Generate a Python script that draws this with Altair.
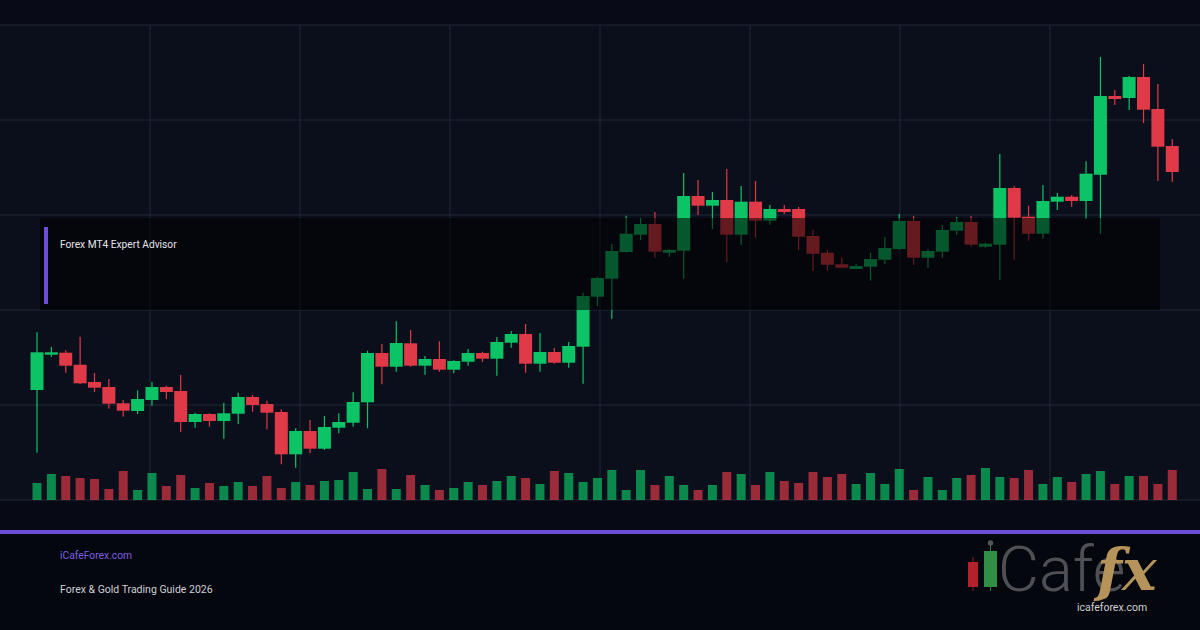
import altair as alt
import pandas as pd

# ---------------- data (price units, volume in lots) ----------------
opens = [4110, 4145.3, 4147.3, 4135.3, 4118, 4113, 4096.7, 4089, 4100, 4113,
         4109, 4078, 4086, 4079, 4086.3, 4103, 4096, 4088, 4045.7, 4069,
         4051.3, 4072.3, 4077.3, 4097.7, 4147, 4133.3, 4156.7, 4134.3, 4141, 4130.3,
         4138.3, 4147, 4141.3, 4157.3, 4166, 4136.3, 4148, 4137.3, 4153.3, 4203.3,
         4221.3, 4248, 4265.3, 4276, 4247.3, 4249.3, 4304, 4294.3, 4300, 4265.3,
         4298.3, 4279.3, 4291, 4291, 4264, 4247.3, 4235.7, 4231, 4233.3, 4240.3,
         4251, 4279, 4242.3, 4248.3, 4269.3, 4278, 4253.3, 4255.3, 4312, 4283.3,
         4266.3, 4298.3, 4303.3, 4299, 4325.3, 4404, 4402, 4423, 4391, 4354]
highs = [4167.7, 4153, 4149.7, 4163.3, 4127, 4121, 4100, 4109.7, 4118, 4114.3,
         4125, 4087.3, 4086.7, 4097.3, 4107.3, 4105, 4099.3, 4090.7, 4071.7, 4080,
         4084, 4086.7, 4107.7, 4149.3, 4156, 4178.7, 4170, 4144, 4158.7, 4139.7,
         4151, 4148.3, 4163, 4169, 4176, 4167, 4152, 4158, 4207.3, 4223.3,
         4256, 4284.3, 4282, 4288, 4251, 4327, 4320, 4308, 4331, 4314,
         4319, 4295, 4295, 4293, 4270, 4250, 4242.3, 4235.7, 4247.3, 4263,
         4286, 4284, 4250.7, 4275, 4283, 4284, 4257.3, 4346, 4314, 4294.3,
         4315, 4307, 4305, 4338.7, 4443, 4410, 4424, 4436, 4416, 4361]
lows = [4047.3, 4143.3, 4127.3, 4116, 4108, 4091.3, 4083.3, 4086, 4094.3, 4101,
        4068, 4072.3, 4073.3, 4061.3, 4076, 4088.3, 4070.7, 4035.7, 4032.3, 4046.7,
        4050, 4066.7, 4073.3, 4071.7, 4115.7, 4128.3, 4133.3, 4125.3, 4128.3, 4126.7,
        4134.3, 4138, 4124.3, 4152.3, 4127.3, 4128.3, 4136.3, 4132.3, 4116.3, 4194,
        4181.3, 4247.3, 4260, 4242.3, 4243.3, 4221.3, 4285, 4271, 4238, 4255,
        4262.3, 4275.3, 4286, 4250, 4229.3, 4229.3, 4231.7, 4230.7, 4219.3, 4236,
        4250, 4235, 4232, 4242.3, 4265.3, 4253.3, 4252.3, 4220.3, 4240.3, 4259.3,
        4261.3, 4290, 4293.3, 4281, 4266, 4395, 4390, 4377, 4319, 4318]
closes = [4147.7, 4147.7, 4134.3, 4116.7, 4112.3, 4096.3, 4089.3, 4101, 4113, 4108,
          4078, 4086, 4079, 4086.7, 4103, 4095, 4087.3, 4045.7, 4069, 4051.3,
          4073, 4078, 4098, 4147, 4133.3, 4157, 4134.3, 4141, 4130.3, 4139,
          4147, 4141.3, 4158, 4166, 4136.3, 4148, 4137.3, 4154, 4204, 4222,
          4249, 4266.3, 4276, 4248.3, 4250, 4304, 4294.3, 4300, 4265.3, 4298.3,
          4279.3, 4291, 4288, 4263.3, 4246.3, 4235.3, 4232.3, 4234, 4241, 4252,
          4279, 4242.3, 4249, 4270, 4278, 4255.3, 4256.3, 4312, 4282.3, 4266.3,
          4299, 4303.3, 4299, 4326.3, 4404, 4401, 4423, 4390.3, 4353.3, 4328]
volumes = [1700, 2600, 2400, 2200, 2100, 1100, 2900, 1000, 2700, 1400,
           2500, 1200, 1700, 1400, 1800, 1400, 2400, 1200, 1800, 1500,
           1900, 2000, 2800, 1100, 3100, 1100, 2500, 1500, 1000, 1200,
           1800, 1500, 1900, 2400, 2200, 1600, 2900, 2700, 1800, 2200,
           3000, 1000, 3000, 1500, 2400, 1500, 1000, 1500, 2800, 2600,
           1500, 2800, 1900, 1700, 2800, 2300, 2600, 1600, 2700, 1600,
           3100, 1000, 2300, 1000, 2200, 2500, 3200, 2300, 2200, 3000,
           1600, 2300, 1800, 2600, 2900, 1600, 2400, 2400, 1600, 3000]

panel_title = ["Forex MT4 Expert Advisor"]
footer_site = ["iCafeForex.com"]
footer_subtitle = ["Forex & Gold Trading Guide 2026"]
logo_word = ["Cafe"]
logo_fx = ["fx"]
logo_url = ["icafeforex.com"]

# ---------------- styling ----------------
W, H = 1200, 630
BG = "#0b0e1b"
GREEN = "#0cc466"
RED = "#e03a48"
PURPLE = "#6c4fd4"
GRID = "#232839"

df = pd.DataFrame({"i": list(range(len(opens))), "open": opens, "high": highs,
                   "low": lows, "close": closes, "volume": volumes})
df["dir"] = ["up" if c >= o else "down" for o, c in zip(opens, closes)]

x_sc = alt.Scale(domain=[-2.575, 80.93], nice=False, zero=False, padding=0)
price_sc = alt.Scale(domain=[3870, 4500], nice=False, zero=False, padding=0)
vol_sc = alt.Scale(domain=[-13000, 50000], nice=False, zero=False, padding=0)
col = alt.Color("dir:N", scale=alt.Scale(domain=["up", "down"], range=[GREEN, RED]), legend=None)

def px(field):
    return alt.X(field, type="quantitative", scale=None, axis=None)

def py(field):
    return alt.Y(field, type="quantitative", scale=None, axis=None)

# background bands
bands = pd.DataFrame({"x": [0, 0, 0], "x2": [W, W, W], "y": [0, 500, 534], "y2": [25, 534, H],
                      "c": ["#080b17", "#070a14", "#05070e"]})
bg_layer = alt.Chart(bands).mark_rect().encode(
    x=px("x"), x2="x2", y=py("y"), y2="y2", color=alt.Color("c:N", scale=None))

hgrid = pd.DataFrame({"y": [25, 120, 215, 310, 405, 500]})
hgrid_layer = alt.Chart(hgrid).mark_rule(color=GRID, strokeWidth=1).encode(
    y=py("y"), x=alt.value(0), x2=alt.value(W))
vgrid = pd.DataFrame({"x": [150, 300, 450, 600, 750, 900, 1050]})
vgrid_layer = alt.Chart(vgrid).mark_rule(color=GRID, strokeWidth=1).encode(
    x=px("x"), y=alt.value(25), y2=alt.value(500))

vol_layer = alt.Chart(df).mark_bar(size=9, opacity=0.68).encode(
    x=alt.X("i:Q", scale=x_sc, axis=None),
    y=alt.Y("volume:Q", scale=vol_sc, axis=None),
    y2=alt.datum(0),
    color=col)

wick_layer = alt.Chart(df).mark_rule(strokeWidth=1.2).encode(
    x=alt.X("i:Q", scale=x_sc, axis=None),
    y=alt.Y("low:Q", scale=price_sc, axis=None),
    y2="high:Q",
    color=col)

body_layer = alt.Chart(df).mark_bar(size=13).encode(
    x=alt.X("i:Q", scale=x_sc, axis=None),
    y=alt.Y("open:Q", scale=price_sc, axis=None),
    y2="close:Q",
    color=col)

overlay = alt.Chart(pd.DataFrame({"a": [0]})).mark_rect(color="#000000", opacity=0.55).encode(
    x=alt.value(40), x2=alt.value(1160), y=alt.value(218), y2=alt.value(310))
accent = alt.Chart(pd.DataFrame({"a": [0]})).mark_rect(color=PURPLE).encode(
    x=alt.value(44), x2=alt.value(48), y=alt.value(227), y2=alt.value(304))
title_txt = alt.Chart(pd.DataFrame({"t": panel_title})).mark_text(
    align="left", baseline="middle", font="Roboto", fontSize=10.2, color="#e4e4ea").encode(
    x=alt.value(60), y=alt.value(245), text="t:N")

line = alt.Chart(pd.DataFrame({"a": [0]})).mark_rect(color=PURPLE).encode(
    x=alt.value(0), x2=alt.value(W), y=alt.value(530), y2=alt.value(534))

site_txt = alt.Chart(pd.DataFrame({"t": footer_site})).mark_text(
    align="left", baseline="middle", font="Roboto", fontSize=10.3, color="#7b5fe2").encode(
    x=alt.value(60), y=alt.value(556), text="t:N")
sub_txt = alt.Chart(pd.DataFrame({"t": footer_subtitle})).mark_text(
    align="left", baseline="middle", font="Roboto", fontSize=10.5, color="#cfd0d6").encode(
    x=alt.value(60), y=alt.value(590), text="t:N")

# logo
logo_rects = pd.DataFrame({
    "x": [972.5, 968, 990, 984],
    "x2": [973.5, 978, 991, 997],
    "y": [557, 562, 544, 551],
    "y2": [591, 587, 591, 587],
    "c": ["#8a1f27", "#b3222b", "#2b7a3c", "#2f8f45"]})
logo_icon = alt.Chart(logo_rects).mark_rect().encode(
    x=px("x"), x2="x2", y=py("y"), y2="y2", color=alt.Color("c:N", scale=None))
logo_dot = alt.Chart(pd.DataFrame({"a": [0]})).mark_point(
    filled=True, size=30, color="#555555", opacity=1).encode(x=alt.value(990.5), y=alt.value(543))
logo_word_txt = alt.Chart(pd.DataFrame({"t": logo_word})).mark_text(
    align="left", baseline="alphabetic", font="Roboto", fontWeight=300, fontSize=63,
    color="#505054").encode(x=alt.value(998), y=alt.value(591), text="t:N")
logo_fx_txt = alt.Chart(pd.DataFrame({"t": logo_fx})).mark_text(
    align="left", baseline="alphabetic", font="DejaVu Serif", fontStyle="italic",
    fontWeight="bold", fontSize=58, color="#b5935a").encode(
    x=alt.value(1097), y=alt.value(590), text="t:N")
logo_url_txt = alt.Chart(pd.DataFrame({"t": logo_url})).mark_text(
    align="center", baseline="middle", font="Roboto", fontSize=10.5, color="#d0d0d0").encode(
    x=alt.value(1112), y=alt.value(608), text="t:N")

chart = alt.layer(
    bg_layer, hgrid_layer, vgrid_layer, vol_layer, wick_layer, body_layer,
    overlay, accent, title_txt, line, site_txt, sub_txt,
    logo_icon, logo_dot, logo_word_txt, logo_fx_txt, logo_url_txt
).resolve_scale(
    x="independent", y="independent", color="independent"
).properties(
    width=W, height=H, padding=0, autosize=alt.AutoSizeParams(type="none")
).configure(background=BG).configure_view(stroke=None, strokeWidth=0)

chart.save("out.html", embed_options={"renderer": "svg", "actions": False})
